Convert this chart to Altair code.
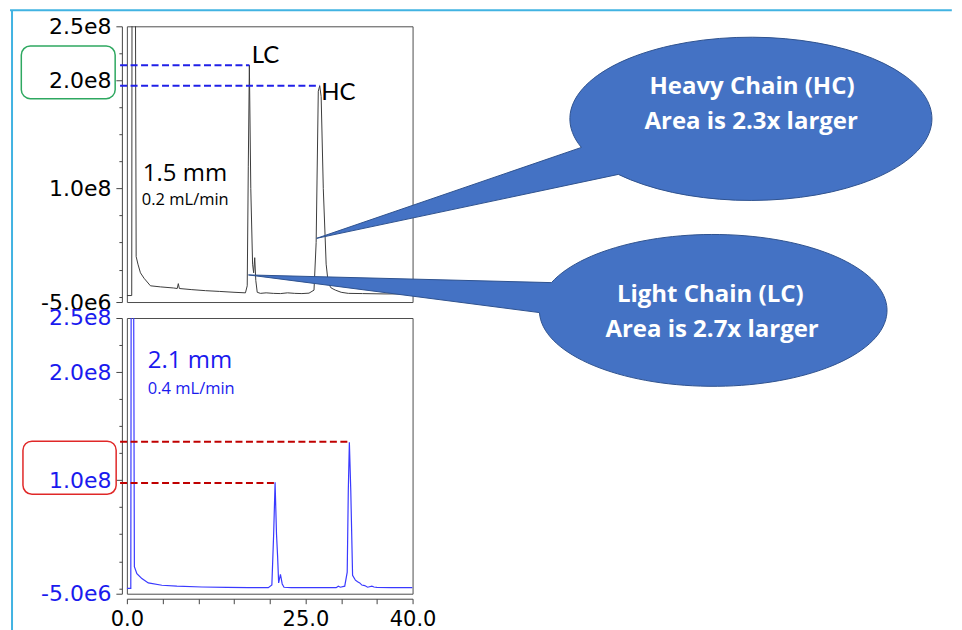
import altair as alt
import pandas as pd

# ---------------- data (time in min, signal in units of 1e8 counts) ----------------
top_time = [0.0, 0.68, 0.72, 1.2, 1.3, 1.55, 1.9, 2.4, 3.3, 4.7, 6.5, 7.05, 7.2, 7.35, 9.0,
            11.0, 13.0, 15.0, 16.6, 16.85, 17.0, 17.15, 17.35, 17.6, 17.75, 17.9, 18.05, 18.25,
            18.7, 19.5, 20.5, 21.5, 22.5, 23.5, 24.5, 25.5, 26.2, 26.5, 26.8, 27.0, 27.2, 27.5,
            27.9, 28.2, 28.6, 29.2, 30.0, 31.0, 33.0, 36.0, 40.0]
top_signal = [0.01, 0.01, 2.7, 2.7, 0.37, 0.3, 0.22, 0.17, 0.1, 0.09, 0.08, 0.075, 0.12, 0.075, 0.065,
              0.055, 0.048, 0.04, 0.035, 0.1, 1.2, 2.14, 1.0, 0.3, 0.22, 0.36, 0.15, 0.04,
              0.03, 0.035, 0.03, 0.028, 0.035, 0.03, 0.028, 0.032, 0.06, 0.5, 1.9, 1.95, 1.85, 1.0,
              0.3, 0.12, 0.08, 0.06, 0.04, 0.03, 0.028, 0.025, 0.025]

bottom_time = [0.0, 0.55, 0.6, 0.95, 1.05, 1.4, 2.1, 3.0, 4.9, 7.0, 10.5, 14.0, 17.0, 19.8,
               20.3, 20.55, 20.75, 20.95, 21.1, 21.25, 21.5, 21.75, 22.0, 23.0, 25.0, 27.0,
               29.3, 29.6, 29.9, 30.5, 30.85, 31.0, 31.15, 31.35, 31.6, 32.0, 32.3, 32.6, 32.9,
               33.3, 33.7, 34.3, 34.6, 35.0, 37.0, 40.0]
bottom_signal = [0.0, 0.0, 2.7, 2.7, 0.2, 0.135, 0.09, 0.05, 0.028, 0.02, 0.012, 0.009, 0.007, 0.006,
                 0.03, 0.5, 0.98, 0.5, 0.3, 0.05, 0.13, 0.04, 0.01, 0.006, 0.006, 0.006,
                 0.006, 0.02, 0.01, 0.02, 0.15, 0.9, 1.35, 0.9, 0.12, 0.075, 0.06, 0.05, 0.03,
                 0.025, 0.01, 0.02, 0.012, 0.008, 0.006, 0.006]

peak_names = ["LC", "HC"]
top_peak_time = [17.15, 27.0]
top_peak_height = [2.14, 1.95]
bottom_peak_time = [20.75, 31.15]
bottom_peak_height = [0.975, 1.355]

top_texts = ["1.5 mm", "0.2 mL/min"]
bottom_texts = ["2.1 mm", "0.4 mL/min"]
hc_callout_text = ["Heavy Chain (HC)", "Area is 2.3x larger"]
lc_callout_text = ["Light Chain (LC)", "Area is 2.7x larger"]

x_ticks = [0, 5, 10, 15, 20, 25, 30, 35, 40]
x_labeled = [0, 25, 40]
x_labels = ["0.0", "25.0", "40.0"]
y_major = [-0.05, 1.0, 2.0, 2.5]
y_major_labels = ["-5.0e6", "1.0e8", "2.0e8", "2.5e8"]
y_minor = [0, 0.25, 0.5, 0.75, 1.25, 1.5, 1.75, 2.25]

# ---------------- styling ----------------
TICK_FONT = "DejaVu Sans"
TXT_FONT = "Open Sans"
BLUE_TXT = "#1a1aee"
AX = "#444444"

def label_expr(values, labels):
    s = "''"
    for k, v in zip(values, labels):
        s = f"abs(datum.value - ({k})) < 1e-6 ? '{v}' : " + s
    return s

xscale = alt.Scale(domain=[0, 40], nice=False, zero=False)
yscale = alt.Scale(domain=[-0.05, 2.5], nice=False, zero=False)

def y_axis_major(color):
    return alt.Axis(values=y_major, labelExpr=label_expr(y_major, y_major_labels), title=None,
                    offset=5, orient="left", domainColor=AX, tickColor=AX, labelColor=color,
                    labelFont=TICK_FONT, labelFontSize=22, labelPadding=5, labelOverlap=False,
                    grid=False, tickSize=6)

y_axis_minor = alt.Axis(values=y_minor, labels=False, domain=False, title=None, offset=5,
                        orient="left", tickColor=AX, grid=False, tickSize=3)

x_axis = alt.Axis(values=x_ticks, labelExpr=label_expr(x_labeled, x_labels),
                  title=None, offset=5, orient="bottom", domainColor=AX, tickColor=AX,
                  labelColor="black", labelFont=TICK_FONT, labelFontSize=21, labelPadding=5,
                  labelOverlap=False, labelFlush=False, grid=False, tickSize=5)

def X(field="t", axis=None):
    return alt.X(f"{field}:Q", scale=xscale, axis=axis)

def Y(field="v", axis=None):
    return alt.Y(f"{field}:Q", scale=yscale, axis=axis)

W, H = 286, 276

# ---------------- top panel ----------------
top_df = pd.DataFrame({"t": top_time, "v": top_signal})
top_line = alt.Chart(top_df).mark_line(color="#3c3c3c", strokeWidth=1, clip=True).encode(
    x=X(), y=Y(axis=y_axis_major("black")))

top_peaks = pd.DataFrame({"name": peak_names, "t2": top_peak_time, "v": top_peak_height,
                          "t": [-0.95, -0.95]})
top_dash = alt.Chart(top_peaks).mark_rule(color="#2020e8", strokeWidth=2, strokeDash=[7, 3.5]).encode(
    x=X(), x2="t2", y=Y(axis=y_axis_minor))

peak_label_df = pd.DataFrame({"name": peak_names, "t": [17.48, 27.2], "v": [2.16, 1.815]})
peak_labels = alt.Chart(peak_label_df).mark_text(font="Lato", fontSize=24, align="left",
                                                 baseline="alphabetic", color="black").encode(
    x=X(), y=Y(), text="name:N")

top_txt_df = pd.DataFrame({"txt": top_texts, "t": [2.24, 2.1], "v": [1.065, 0.843],
                           "size": [24, 16.5]})
top_txt = alt.Chart(top_txt_df).mark_text(font=TXT_FONT, align="left", baseline="alphabetic",
                                          color="black").encode(
    x=X(), y=Y(), text="txt:N", size=alt.Size("size:Q", scale=None))

# annotation frame (top and left edges) and rounded box around 2.0e8
frame_h = pd.DataFrame({"t": [-16.36], "t2": [115.5], "v": [2.648]})
frame_v = pd.DataFrame({"t": [-16.08], "v": [2.648], "v2": [-3.093]})
frame_top = alt.Chart(frame_h).mark_rule(color="#41b3e2", strokeWidth=2).encode(
    x=X(), x2="t2", y=Y())
frame_left = alt.Chart(frame_v).mark_rule(color="#41b3e2", strokeWidth=2).encode(
    x=X(), y=Y(), y2="v2")

green_box_df = pd.DataFrame({"t": [-14.78], "t2": [-1.64], "v": [2.318], "v2": [1.831]})
green_box = alt.Chart(green_box_df).mark_rect(fillOpacity=0, stroke="#2ea860", strokeWidth=1.5,
                                              cornerRadius=9).encode(
    x=X(), x2="t2", y=Y(), y2="v2")

# callouts (ellipse + pointer drawn as one path around the ellipse centre)
hc_path = "M -435.5 119.7 L -133.5 55.7 A 181.2 81.7 0 1 0 -170.5 28.7 Z"
lc_path = "M -465.3 -34.7 L -162 -27 A 174 76 0 1 1 -174 3 Z"
callout_df = pd.DataFrame({"t": [87.48, 82.1], "v": [1.645, -0.12], "shape": [hc_path, lc_path]})
callouts = alt.Chart(callout_df).mark_point(filled=True, fill="#4472C4", stroke="#2F528F",
                                            strokeWidth=1, opacity=1, size=4).encode(
    x=X(), y=Y(), shape=alt.Shape("shape:N", scale=None))

callout_txt_df = pd.DataFrame({"txt": hc_callout_text + lc_callout_text,
                               "t": [87.52, 87.41, 81.68, 81.93],
                               "v": [1.877, 1.546, -0.053, -0.377]})
callout_txt = alt.Chart(callout_txt_df).mark_text(font=TXT_FONT, fontSize=24, fontWeight="bold",
                                                  align="center", baseline="alphabetic",
                                                  color="white").encode(
    x=X(), y=Y(), text="txt:N")

top = alt.layer(frame_top, frame_left, green_box, top_line, top_dash, peak_labels, top_txt,
                callouts, callout_txt).resolve_axis(x="independent", y="independent").properties(
    width=W, height=H)

# ---------------- bottom panel ----------------
bot_df = pd.DataFrame({"t": bottom_time, "v": bottom_signal})
bot_line = alt.Chart(bot_df).mark_line(color="#3a3aff", strokeWidth=1.2, clip=True).encode(
    x=X(axis=x_axis), y=Y(axis=y_axis_major(BLUE_TXT)))

bot_peaks = pd.DataFrame({"name": peak_names, "t2": bottom_peak_time, "v": bottom_peak_height,
                          "t": [-0.95, -0.95]})
bot_dash = alt.Chart(bot_peaks).mark_rule(color="#c00000", strokeWidth=2, strokeDash=[7, 3.5]).encode(
    x=X(), x2="t2", y=Y(axis=y_axis_minor))

bot_txt_df = pd.DataFrame({"txt": bottom_texts, "t": [2.94, 2.94], "v": [2.037, 1.796],
                           "size": [24, 16.5]})
bot_txt = alt.Chart(bot_txt_df).mark_text(font=TXT_FONT, align="left", baseline="alphabetic",
                                          color=BLUE_TXT).encode(
    x=X(), y=Y(), text="txt:N", size=alt.Size("size:Q", scale=None))

red_box_df = pd.DataFrame({"t": [-14.55], "t2": [-1.50], "v": [1.361], "v2": [0.870]})
red_box = alt.Chart(red_box_df).mark_rect(fillOpacity=0, stroke="#e02828", strokeWidth=1.5,
                                          cornerRadius=9).encode(
    x=X(), x2="t2", y=Y(), y2="v2")

bottom = alt.layer(red_box, bot_line, bot_dash, bot_txt).resolve_axis(
    x="independent", y="independent").properties(width=W, height=H)

chart = alt.vconcat(top, bottom, spacing=16, bounds="flush").properties(
    padding={"left": 0, "top": 0, "right": 0, "bottom": 0}
).configure_view(stroke="#4d4d4d", strokeWidth=1)

chart.save("out.html", embed_options={"renderer": "svg", "actions": False})
